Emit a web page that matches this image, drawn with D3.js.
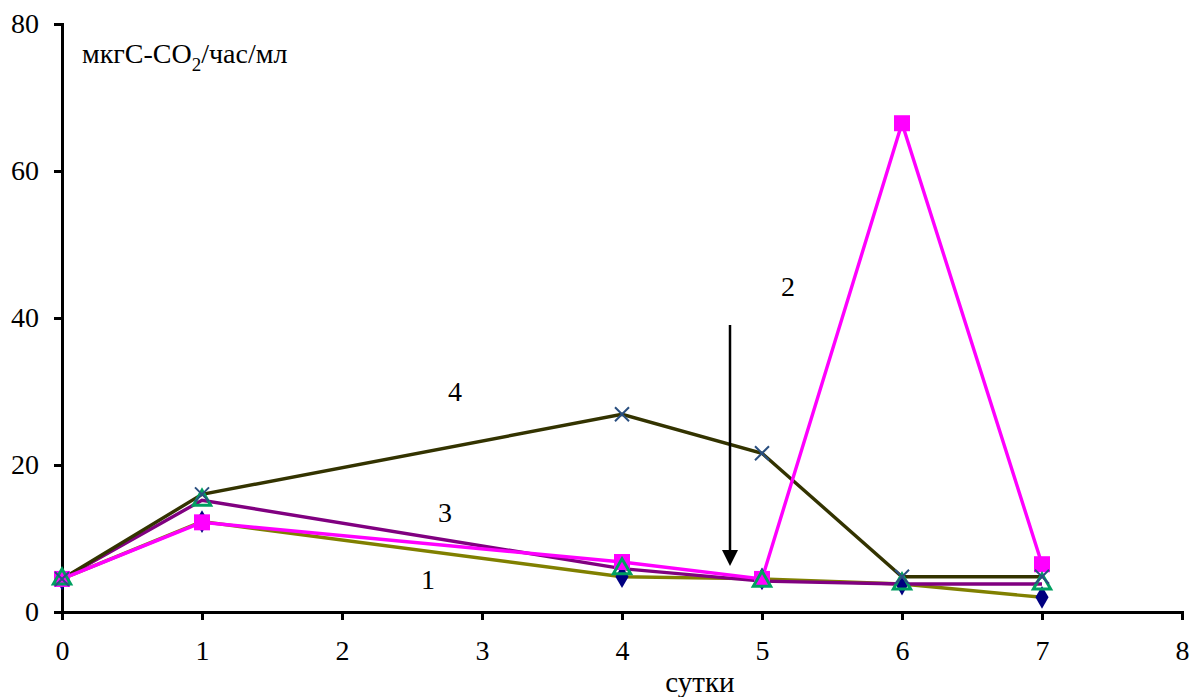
<!DOCTYPE html>
<html lang="ru">
<head>
<meta charset="UTF-8">
<title>Chart</title>
<script src="https://d3js.org/d3.v7.min.js"></script>
<style>
  body { margin: 0; background: #fff; }
  svg text { font-family: "Liberation Serif", "Times New Roman", serif !important; fill: #000; }
</style>
</head>
<body>
<svg width="1191" height="697"></svg>
<script>
var days = [0, 1, 4, 5, 6, 7];
var series1 = [4.5, 12.3, 4.8, 4.5, 3.8, 2.0];
var series2 = [4.5, 12.2, 6.8, 4.5, 66.5, 6.5];
var series3 = [4.5, 15.2, 5.9, 4.2, 3.8, 3.8];
var series4 = [4.5, 16.0, 26.9, 21.6, 4.8, 4.8];
var xTicks = [0, 1, 2, 3, 4, 5, 6, 7, 8];
var yTicks = [0, 20, 40, 60, 80];

var svg = d3.select("svg");
var x = d3.scaleLinear().domain([0, 8]).range([62, 1182]);
var y = d3.scaleLinear().domain([0, 80]).range([612, 24]);

// axes
var xAxis = svg.append("g")
    .attr("transform", "translate(0,612)")
    .call(d3.axisBottom(x).tickValues(xTicks).tickSize(8).tickPadding(20).tickFormat(d3.format("d")));
var yAxis = svg.append("g")
    .attr("transform", "translate(62,0)")
    .call(d3.axisLeft(y).tickValues(yTicks).tickSize(8).tickPadding(15).tickFormat(d3.format("d")));
[xAxis, yAxis].forEach(function (a) {
    a.attr("font-size", 28).attr("font-family", "Liberation Serif");
    a.select(".domain").attr("stroke", "#000").attr("stroke-width", 3);
    a.selectAll(".tick line").attr("stroke", "#000").attr("stroke-width", 3);
    a.selectAll(".tick text").attr("font-size", 28);
});

var line = d3.line().x(function (d, i) { return x(days[i]); }).y(function (d) { return y(d); });

// lines
var defs = [
    { data: series1, color: "#808000" },
    { data: series3, color: "#800080" },
    { data: series4, color: "#333300" },
    { data: series2, color: "#ff00ff" }
];
defs.forEach(function (s) {
    svg.append("path").datum(s.data).attr("d", line)
        .attr("fill", "none").attr("stroke", s.color).attr("stroke-width", 3.4);
});

// markers: series1 diamonds
svg.selectAll(".m1").data(series1).enter().append("path")
    .attr("transform", function (d, i) { return "translate(" + x(days[i]) + "," + y(d) + ")"; })
    .attr("d", d3.symbol().type(d3.symbolDiamond).size(150))
    .attr("fill", "#000080");
// series2 squares
svg.selectAll(".m2").data(series2).enter().append("rect")
    .attr("x", function (d, i) { return x(days[i]) - 8; })
    .attr("y", function (d) { return y(d) - 8; })
    .attr("width", 16).attr("height", 16)
    .attr("fill", "#ff00ff");
// series3 triangles
svg.selectAll(".m3").data(series3).enter().append("path")
    .attr("transform", function (d, i) { return "translate(" + x(days[i]) + "," + y(d) + ")"; })
    .attr("d", d3.symbol().type(d3.symbolTriangle).size(130))
    .attr("fill", "none").attr("stroke", "#00a060").attr("stroke-width", 3);
// series4 crosses
svg.selectAll(".m4").data(series4).enter().append("path")
    .attr("transform", function (d, i) { return "translate(" + x(days[i]) + "," + y(d) + ")"; })
    .attr("d", "M-7,-7L7,7M-7,7L7,-7")
    .attr("stroke", "#2a4f80").attr("stroke-width", 2);

// arrow
svg.append("line").attr("x1", 730).attr("y1", 325).attr("x2", 730).attr("y2", 552)
    .attr("stroke", "#000").attr("stroke-width", 2.5);
svg.append("path").attr("d", "M722,550L738,550L730,566Z").attr("fill", "#000");

// labels
var labels = [["4", 455, 401], ["3", 445, 522], ["1", 428, 589], ["2", 788, 296]];
labels.forEach(function (l) {
    svg.append("text").attr("x", l[1]).attr("y", l[2]).attr("text-anchor", "middle")
        .attr("font-size", 28).text(l[0]);
});

var unit = svg.append("text").attr("x", 82).attr("y", 63).attr("font-size", 28);
unit.append("tspan").text("мкгС-СО");
unit.append("tspan").attr("dy", 8).attr("font-size", 19).text("2");
unit.append("tspan").attr("dy", -8).text("/час/мл");

svg.append("text").attr("x", 700).attr("y", 692).attr("text-anchor", "middle")
    .attr("font-size", 29).text("сутки");
</script>
</body>
</html>
